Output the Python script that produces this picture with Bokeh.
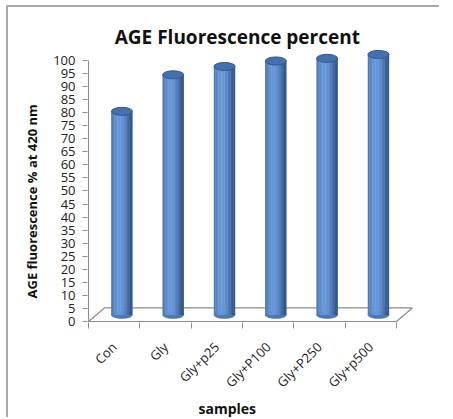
import math
from bokeh.plotting import figure
from bokeh.models import Range1d, FixedTicker, Label, Title
from bokeh.embed import file_html
from bokeh.resources import INLINE

# ---- data ----
categories = ["Con", "Gly", "Gly+p25", "Gly+P100", "Gly+P250", "Gly+p500"]
fluorescence = [78, 92, 95.2, 97.3, 98.3, 99.8]
y_ticks = list(range(0, 101, 5))
title_text = "AGE Fluorescence percent"
y_label = "AGE fluorescence % at 420 nm"
x_label = "samples"

# ---- geometry of the pseudo-3D look (styling only) ----
depth_dx, depth_dy = 0.31, 5.2      # back-wall offset in data units
mid_dx, mid_dy = 0.15, 2.5          # bar plane offset
bar_w = 0.41
n = len(categories)

p = figure(frame_width=332, frame_height=302, output_backend="svg", toolbar_location=None,
           x_range=Range1d(-0.02, 6.45), y_range=Range1d(-0.38, 115.3),
           min_border_left=79, min_border_right=20, min_border_top=13,
           min_border_bottom=95)
p.styles = {"border-top": "2px solid #A8A8A8", "border-left": "2px solid #A8A8A8",
            "margin-left": "6px", "margin-top": "5px"}
p.outline_line_color = None
p.grid.visible = False
p.background_fill_color = "white"

# floor
fx = [0, n, n + depth_dx, depth_dx]
fy = [0, 0, depth_dy, depth_dy]
p.patch(fx, fy, fill_color="white", line_color="#8C8C8C", line_width=1.2)
# y axis line
p.segment(x0=[0], y0=[0], x1=[0], y1=[100], line_color="#8C8C8C", line_width=1.2)

# cylinders
centers = [i + 0.5 + mid_dx for i in range(n)]
tops = [v + mid_dy for v in fluorescence]
dark = (52, 88, 140)
light = (104, 152, 216)
p.ellipse(x=centers, y=[mid_dy] * n, width=bar_w, height=7, height_units="screen",
          fill_color="#4A78B8", line_color="#3A6098", line_width=0.5)
strips = 14
for k in range(strips):
    t = (k + 0.5) / strips
    inten = max(0.0, math.cos((t - 0.38) * math.pi * 0.95))
    c = tuple(int(dark[j] + (light[j] - dark[j]) * inten) for j in range(3))
    col = "#%02x%02x%02x" % c
    xs = [cx - bar_w / 2 + (k + 0.5) * bar_w / strips for cx in centers]
    p.vbar(x=xs, bottom=[mid_dy] * n, top=tops, width=bar_w / strips + 0.008,
           fill_color=col, line_color=None)
p.ellipse(x=centers, y=tops, width=bar_w, height=8, height_units="screen",
          fill_color="#4470AC", line_color="#34598E", line_width=1)

# axes
yax = p.yaxis[0]
yax.ticker = FixedTicker(ticks=y_ticks)
yax.axis_line_color = None
yax.major_tick_line_color = "#8C8C8C"
yax.major_tick_out = 5
yax.major_tick_in = 0
yax.minor_tick_line_color = None
yax.major_label_text_font = "Open Sans"
yax.major_label_text_font_size = "13px"
yax.major_label_text_color = "#222222"
yax.major_label_standoff = 7

xax = p.xaxis[0]
xax.ticker = FixedTicker(ticks=[i + 0.5 for i in range(n)], minor_ticks=list(range(n + 1)))
xax.major_label_overrides = {i + 0.5: c for i, c in enumerate(categories)}
xax.axis_line_color = None
xax.major_tick_line_color = None
xax.minor_tick_line_color = "#8C8C8C"
xax.minor_tick_out = 6
xax.minor_tick_in = 0
xax.major_label_orientation = math.pi / 4
xax.major_label_text_font = "Open Sans"
xax.major_label_text_font_size = "13px"
xax.major_label_text_color = "#222222"
xax.major_label_standoff = 16

p.add_layout(Label(x=2.9, y=108.8, text=title_text, text_align="center",
                   text_baseline="middle", text_font="Open Sans",
                   text_font_style="bold", text_font_size="19px", text_color="#111111"))
p.add_layout(Title(text=y_label, align="left", offset=24, standoff=20,
                   text_font="Open Sans", text_font_style="bold",
                   text_font_size="13px", text_color="#111111"), "left")
p.add_layout(Title(text=x_label, align="left", offset=111, standoff=-7,
                   text_font="Open Sans", text_font_style="bold",
                   text_font_size="14px", text_color="#111111"), "below")

open("out.html", "w").write(file_html(p, INLINE))
